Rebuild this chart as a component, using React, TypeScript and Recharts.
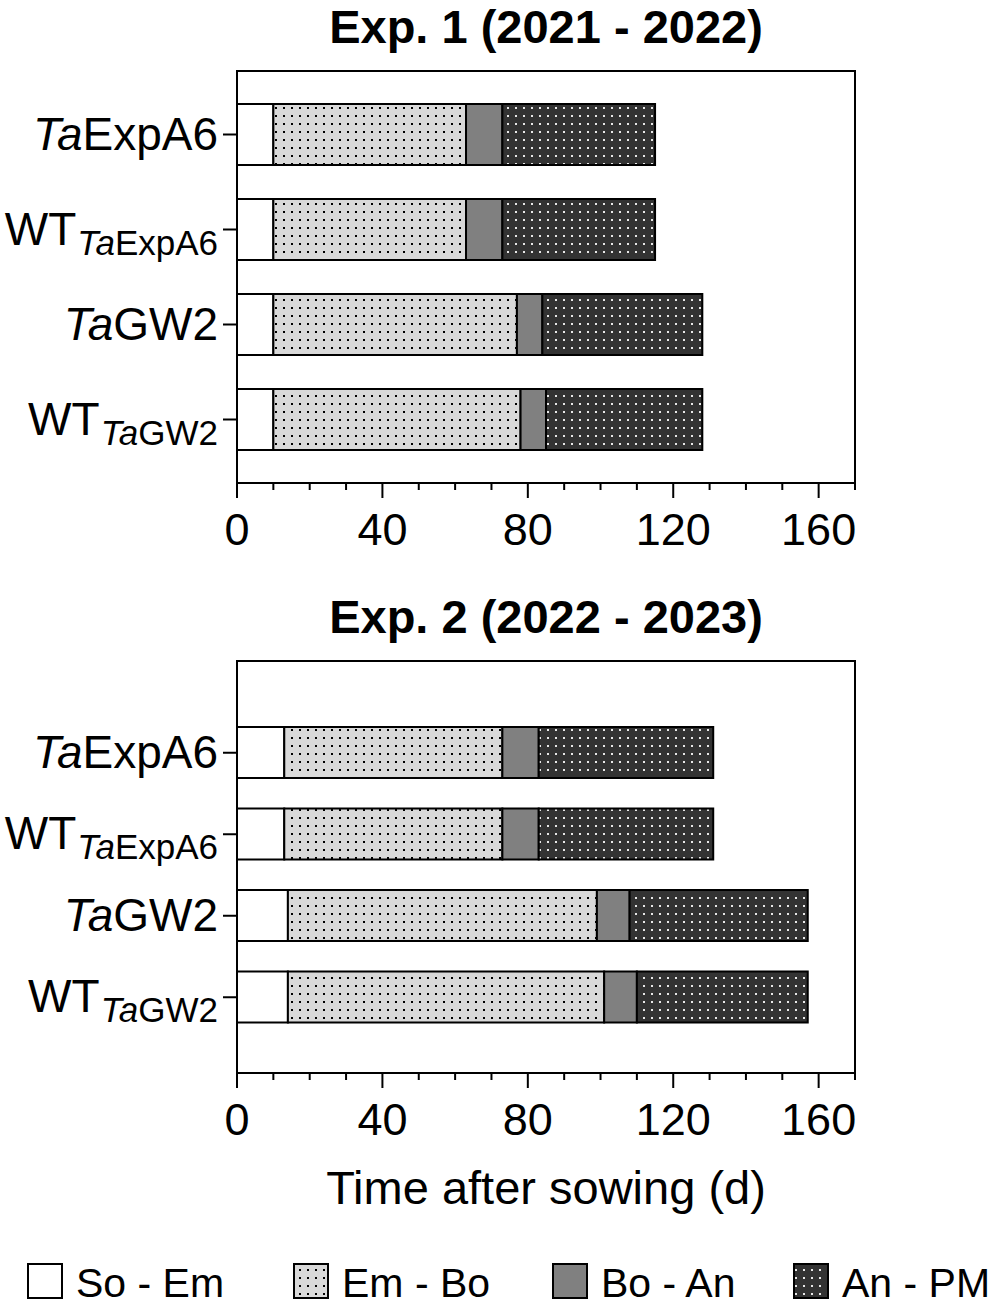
import React from "react";
import { BarChart, Bar, XAxis, YAxis } from "recharts";

const FONT = '"Liberation Sans", Arial, sans-serif';

// genotypes, top to bottom
const categories = ["TaExpA6", "WT TaExpA6", "TaGW2", "WT TaGW2"];

// phase durations (days) - Exp. 1 (2021 - 2022)
const exp1SoEm = [10, 10, 10, 10];
const exp1EmBo = [53, 53, 67, 68];
const exp1BoAn = [10, 10, 7, 7];
const exp1AnPm = [42, 42, 44, 43];

// phase durations (days) - Exp. 2 (2022 - 2023)
const exp2SoEm = [13, 13, 14, 14];
const exp2EmBo = [60, 60, 85, 87];
const exp2BoAn = [10, 10, 9, 9];
const exp2AnPm = [48, 48, 49, 47];

const xTicks = [0, 10, 20, 30, 40, 50, 60, 70, 80, 90, 100, 110, 120, 130, 140, 150, 160, 170];
const xLabels = [0, 40, 80, 120, 160];

const phases = [
  { key: "soEm", label: "So - Em" },
  { key: "emBo", label: "Em - Bo" },
  { key: "boAn", label: "Bo - An" },
  { key: "anPm", label: "An - PM" },
];

const buildData = (soEm: number[], emBo: number[], boAn: number[], anPm: number[]) =>
  categories.map((name, i) => ({
    name,
    soEm: soEm[i],
    emBo: emBo[i],
    boAn: boAn[i],
    anPm: anPm[i],
  }));

const exp1Data = buildData(exp1SoEm, exp1EmBo, exp1BoAn, exp1AnPm);
const exp2Data = buildData(exp2SoEm, exp2EmBo, exp2BoAn, exp2AnPm);

const fills = (p: string) => ({
  soEm: "#ffffff",
  emBo: `url(#${p}-light)`,
  boAn: "#808080",
  anPm: `url(#${p}-dark)`,
});

function Patterns({ prefix }: { prefix: string }) {
  return (
    <defs>
      <pattern id={`${prefix}-light`} width={8} height={8} patternUnits="userSpaceOnUse">
        <rect width={8} height={8} fill="#d9d9d9" />
        <rect x={3} y={3} width={2} height={2} fill="#000" />
      </pattern>
      <pattern id={`${prefix}-dark`} width={8} height={8} patternUnits="userSpaceOnUse">
        <rect width={8} height={8} fill="#333333" />
        <rect x={3} y={3} width={2} height={2} fill="#e8e8e8" />
      </pattern>
    </defs>
  );
}

const XTick = (props: any) => {
  const { x, y, payload } = props;
  const major = xLabels.includes(payload.value);
  return (
    <g>
      <line x1={x} x2={x} y1={y} y2={y + (major ? 15 : 7)} stroke="#000" strokeWidth={2} />
      {major && (
        <text x={x} y={y + 62} textAnchor="middle" fontSize={45} fontFamily={FONT} fill="#000">
          {payload.value}
        </text>
      )}
    </g>
  );
};

const YTick = (props: any) => {
  const { x, y, payload } = props;
  const label: string = payload.value;
  const isWT = label.startsWith("WT ");
  const gene = isWT ? label.slice(3) : label;
  const size = isWT ? 35 : 46;
  return (
    <text x={x} y={y + 15} textAnchor="end" fontSize={46} fontFamily={FONT} fill="#000">
      {isWT && <tspan>WT</tspan>}
      <tspan fontStyle="italic" fontSize={size} dy={isWT ? 10 : 0} dx={isWT ? 1 : 0}>
        {gene.slice(0, 2)}
      </tspan>
      <tspan fontSize={size}>{gene.slice(2)}</tspan>
    </text>
  );
};

const axisStroke = { stroke: "#000", strokeWidth: 2 };

function PhaseChart({ prefix, title, data, top, height, barSize, padTop, padBottom }: any) {
  const f = fills(prefix);
  return (
    <div style={{ position: "absolute", left: 0, top, width: 989, height }}>
      <div
        style={{
          position: "absolute",
          left: 237,
          width: 618,
          top: 2,
          textAlign: "center",
          fontWeight: "bold",
          fontSize: 47,
          lineHeight: "50px",
          fontFamily: FONT,
        }}
      >
        {title}
      </div>
      <BarChart
        width={989}
        height={height}
        data={data}
        layout="vertical"
        margin={{ top: 71, right: 134, bottom: height - 71 - 412 - 60, left: 0 }}
      >
        <Patterns prefix={prefix} />
        <XAxis
          type="number"
          domain={[0, 170]}
          ticks={xTicks}
          interval={0}
          tickSize={0}
          tickMargin={0}
          tickLine={false}
          tick={(p: any) => <XTick {...p} />}
          axisLine={axisStroke}
          height={60}
          allowDataOverflow
        />
        <YAxis
          type="category"
          dataKey="name"
          width={237}
          tickSize={14}
          tickMargin={5}
          interval={0}
          tick={(p: any) => <YTick {...p} />}
          tickLine={axisStroke}
          axisLine={axisStroke}
          padding={{ top: padTop, bottom: padBottom }}
        />
        {phases.map((ph) => (
          <Bar
            key={ph.key}
            dataKey={ph.key}
            stackId="a"
            fill={(f as any)[ph.key]}
            stroke="#000"
            strokeWidth={2}
            barSize={barSize}
            isAnimationActive={false}
          />
        ))}
      </BarChart>
      {/* top and right edges of the plot frame */}
      <div
        style={{
          position: "absolute",
          left: 236,
          top: 70,
          width: 620,
          height: 414,
          boxSizing: "border-box",
          borderTop: "2px solid #000",
          borderRight: "2px solid #000",
          pointerEvents: "none",
        }}
      />
    </div>
  );
}

const legendLeft = [28, 294, 553, 794];

export default function App() {
  const lf = fills("lg");
  return (
    <div style={{ position: "absolute", left: 0, top: 0, width: 989, height: 1307, background: "#fff", fontFamily: FONT }}>
      <PhaseChart prefix="e1" title="Exp. 1 (2021 - 2022)" data={exp1Data} top={0} height={560} barSize={61} padTop={16} padBottom={16} />
      <PhaseChart prefix="e2" title="Exp. 2 (2022 - 2023)" data={exp2Data} top={590} height={650} barSize={51} padTop={51} padBottom={35} />
      <div
        style={{
          position: "absolute",
          left: 237,
          width: 618,
          top: 1163,
          textAlign: "center",
          fontSize: 47,
          lineHeight: "50px",
        }}
      >
        Time after sowing (d)
      </div>
      <svg width={989} height={57} style={{ position: "absolute", left: 0, top: 1250 }}>
        <Patterns prefix="lg" />
        {phases.map((ph, i) => (
          <g key={ph.key}>
            <rect
              x={legendLeft[i]}
              y={14}
              width={34}
              height={34}
              fill={(lf as any)[ph.key]}
              stroke="#000"
              strokeWidth={2}
            />
            <text x={legendLeft[i] + 48} y={47} fontSize={41} fontFamily={FONT} fill="#000">
              {ph.label}
            </text>
          </g>
        ))}
      </svg>
    </div>
  );
}
